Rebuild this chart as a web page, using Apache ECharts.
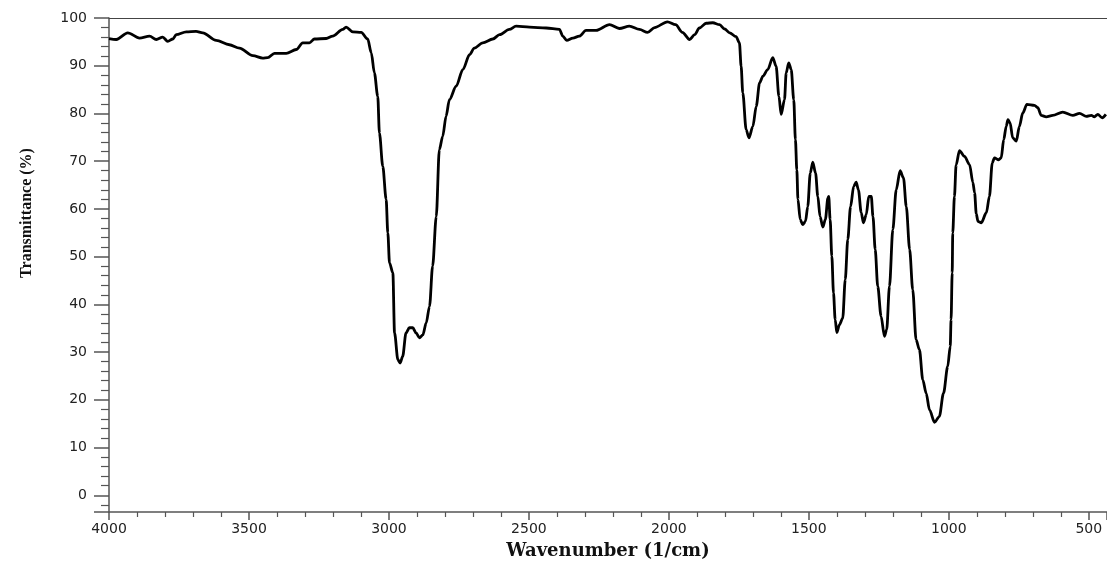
<!DOCTYPE html>
<html>
<head>
<meta charset="utf-8">
<script src="https://cdn.jsdelivr.net/npm/echarts@6/dist/echarts.min.js"></script>
<style>
html,body{margin:0;padding:0;background:#fff;}
#chart{width:1107px;height:561px;}
</style>
</head>
<body>
<div id="chart"></div>
<script>
const wavenumber = [4000,3974,3933,3891,3855,3831,3808,3790,3772,3760,3724,3689,3665,3617,3570,3534,3486,3451,3433,3409,3367,3331,3308,3284,3266,3224,3201,3165,3153,3129,3099,3076,3063,3052,3040,3034,3022,3010,3004,2998,2986,2980,2968,2960,2951,2939,2927,2915,2903,2891,2879,2867,2855,2844,2831,2820,2808,2796,2784,2760,2736,2712,2695,2665,2629,2605,2570,2546,2498,2438,2391,2379,2365,2343,2320,2296,2260,2212,2177,2141,2105,2076,2051,2005,1976,1952,1926,1908,1891,1867,1843,1819,1801,1783,1760,1748,1742,1736,1724,1714,1700,1688,1676,1664,1647,1629,1617,1607,1599,1587,1581,1572,1563,1554,1548,1543,1539,1531,1522,1512,1504,1495,1486,1476,1468,1460,1450,1441,1432,1429,1424,1418,1412,1406,1400,1391,1379,1370,1361,1351,1340,1331,1323,1313,1305,1295,1286,1277,1271,1263,1254,1242,1230,1222,1212,1200,1188,1174,1162,1152,1140,1129,1117,1105,1093,1081,1069,1051,1034,1019,1004,995,992,988,986,980,974,962,944,926,914,908,902,896,884,866,855,845,837,822,813,804,795,789,781,772,759,748,736,721,694,682,670,652,629,593,557,533,509,491,480,468,452,439];
const transmittance = [95.7,95.5,96.9,95.8,96.2,95.5,96.0,95.1,95.6,96.5,97.1,97.2,96.9,95.3,94.4,93.7,92.1,91.6,91.7,92.6,92.6,93.4,94.8,94.8,95.6,95.7,96.2,97.6,98.1,97.1,97.0,95.6,92.7,88.5,83.6,75.9,68.9,62.0,55.0,48.7,46.6,34.0,28.4,27.7,29.1,34.0,35.1,35.1,34.0,33.0,33.6,36.1,39.6,48.0,58.4,72.4,75.2,79.4,82.9,85.7,89.2,92.3,93.7,94.8,95.6,96.5,97.6,98.3,98.1,97.9,97.6,96.2,95.3,95.8,96.2,97.4,97.4,98.6,97.8,98.3,97.6,97.0,98.0,99.2,98.6,97.0,95.5,96.5,97.9,98.9,99.0,98.6,97.7,96.9,96.1,94.8,89.9,84.3,76.6,74.9,77.3,81.5,86.4,87.8,89.2,91.7,89.9,83.6,79.8,82.9,88.5,90.6,89.2,82.9,74.5,68.2,62.0,57.8,56.7,57.4,60.5,67.5,69.8,67.5,62.6,58.4,56.2,57.8,62.3,62.6,57.8,50.1,42.4,36.8,34.1,35.7,37.1,45.2,53.6,60.5,64.7,65.6,64.0,59.2,57.1,58.8,62.6,62.6,58.4,51.5,43.8,37.5,33.3,34.7,43.8,55.7,64.0,68.0,66.5,60.5,51.5,43.1,32.6,30.5,24.2,21.4,17.9,15.3,16.5,21.4,27.0,31.2,36.8,46.6,55.0,62.6,69.2,72.2,71.0,69.3,65.5,63.4,59.0,57.4,57.1,59.2,62.6,69.6,70.7,70.3,70.7,74.5,77.3,78.7,78.0,74.9,74.2,77.3,80.1,81.9,81.7,81.2,79.6,79.3,79.6,80.3,79.6,80.0,79.4,79.6,79.3,79.8,79.1,79.8];
const xTitle = 'Wavenumber (1/cm)';
const yTitle = 'Transmittance (%)';

const seriesData = wavenumber.map((w, i) => [w, transmittance[i]]);
const chart = echarts.init(document.getElementById('chart'), null, {renderer: 'canvas'});
const axisColor = '#555';
const labelStyle = {color: '#222', fontFamily: 'DejaVu Sans', fontSize: 14};
chart.setOption({
  animation: false,
  backgroundColor: '#fff',
  grid: {left: 109, top: 18, right: 0, bottom: 49, containLabel: false, outerBoundsMode: 'none'},
  xAxis: [{
    type: 'value', inverse: true, min: 435, max: 4000, splitNumber: 7,
    position: 'bottom',
    axisLine: {show: true, onZero: false, lineStyle: {color: axisColor, width: 1.5}},
    axisTick: {show: true, inside: false, length: 8, lineStyle: {color: axisColor, width: 1.5}},
    minorTick: {show: true, splitNumber: 5, length: 5, lineStyle: {color: axisColor, width: 1.2}},
    splitLine: {show: false},
    axisLabel: Object.assign({margin: 10, showMinLabel: false,
      formatter: v => (v % 500 === 0 ? String(v) : '')}, labelStyle),
    name: xTitle, nameLocation: 'middle', nameGap: 30,
    nameTextStyle: {fontFamily: 'DejaVu Serif', fontWeight: 'bold', fontSize: 18, color: '#111'}
  }, {
    type: 'value', inverse: true, min: 435, max: 4000, position: 'top',
    axisLine: {show: true, onZero: false, lineStyle: {color: '#444', width: 1}},
    axisTick: {show: false}, axisLabel: {show: false}, splitLine: {show: false}
  }],
  yAxis: {
    type: 'value', min: -3.5, max: 100, splitNumber: 10,
    axisLine: {show: true, onZero: false, lineStyle: {color: axisColor, width: 1.5}},
    axisTick: {show: true, inside: false, length: 15, lineStyle: {color: axisColor, width: 1.5}},
    minorTick: {show: true, splitNumber: 5, length: 8, lineStyle: {color: axisColor, width: 1.2}},
    splitLine: {show: false},
    axisLabel: Object.assign({margin: 22, showMinLabel: false,
      formatter: v => (v % 10 === 0 ? String(v) : '')}, labelStyle),
    name: yTitle, nameLocation: 'middle', nameGap: 74,
    nameTextStyle: {fontFamily: 'Liberation Serif', fontWeight: 'bold', fontSize: 16, color: '#111', padding: [0, 0, 0, 104]}
  },
  series: [{
    type: 'line', data: seriesData, xAxisIndex: 0,
    showSymbol: false, symbol: 'none', smooth: 0.3, smoothMonotone: 'x',
    lineStyle: {color: '#000', width: 2.8}, clip: true
  }]
});
</script>
</body>
</html>
